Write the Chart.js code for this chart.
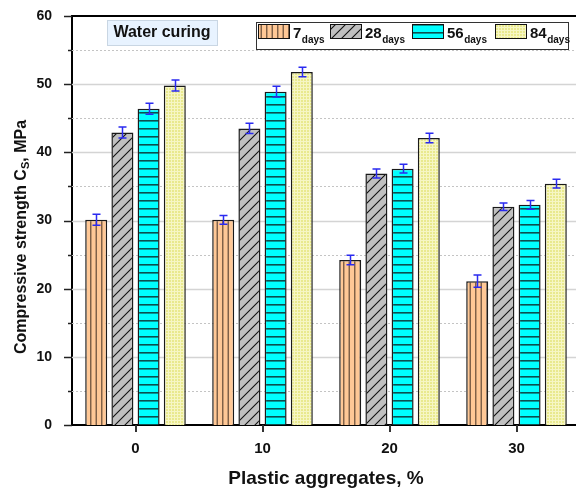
<!DOCTYPE html>
<html>
<head>
<meta charset="utf-8">
<script src="https://cdn.jsdelivr.net/npm/chart.js@4.4.0/dist/chart.umd.min.js"></script>
<style>
  html, body { margin: 0; padding: 0; background: #fff; overflow: hidden; }
  #marco { width: 576px; height: 489px; overflow: hidden; }
</style>
</head>
<body>
<div id="marco"><canvas id="grafico" width="584" height="489"></canvas></div>
<script>
// datos
const categorias = ['0', '10', '20', '30'];
const dias7 = [30.1, 30.1, 24.2, 21.1];
const dias28 = [42.9, 43.5, 36.9, 32.0];
const dias56 = [46.4, 48.9, 37.6, 32.3];
const dias84 = [49.8, 51.8, 42.1, 35.4];
const error7 = [0.8, 0.65, 0.7, 0.9];
const error28 = [0.8, 0.75, 0.65, 0.55];
const error56 = [0.8, 0.8, 0.65, 0.65];
const error84 = [0.8, 0.7, 0.7, 0.65];
const etiquetasSerie = ['7', '28', '56', '84'];

const FUENTE = '"Liberation Sans", Arial, sans-serif';

const canvas = document.getElementById('grafico');
const ctx = canvas.getContext('2d');

function hacerPatron(w, h, dibujar) {
  const c = document.createElement('canvas');
  c.width = w; c.height = h;
  const g = c.getContext('2d');
  dibujar(g, w, h);
  return ctx.createPattern(c, 'repeat');
}

// rayas verticales, naranja
const patron7 = hacerPatron(11, 11, (g, w, h) => {
  g.fillStyle = '#ffc896'; g.fillRect(0, 0, w, h);
  g.strokeStyle = '#7a5c44'; g.lineWidth = 1.4;
  [2.75, 8.25].forEach(x => { g.beginPath(); g.moveTo(x, 0); g.lineTo(x, h); g.stroke(); });
});
// diagonales, gris
const patron28 = hacerPatron(10, 10, (g, w, h) => {
  g.fillStyle = '#c0c0c0'; g.fillRect(0, 0, w, h);
  g.strokeStyle = '#111'; g.lineWidth = 1.1;
  g.beginPath();
  g.moveTo(-1, h + 1); g.lineTo(w + 1, -1);
  g.moveTo(-1, 1); g.lineTo(1, -1);
  g.moveTo(w - 1, h + 1); g.lineTo(w + 1, h - 1);
  g.stroke();
});
// rayas horizontales, cian
const patron56 = hacerPatron(8, 8, (g, w, h) => {
  g.fillStyle = '#00ffff'; g.fillRect(0, 0, w, h);
  g.fillStyle = '#0b4f4f'; g.fillRect(0, 0, w, 1.6);
});
// cuadricula fina, amarillo
const patron84 = hacerPatron(3, 3, (g, w, h) => {
  g.fillStyle = '#e9e98e'; g.fillRect(0, 0, w, h);
  g.fillStyle = '#f6f6c4'; g.fillRect(0, 0, w, 1); g.fillRect(0, 0, 1, h);
});

const series = [
  { label: '7', data: dias7, errores: error7, backgroundColor: patron7 },
  { label: '28', data: dias28, errores: error28, backgroundColor: patron28 },
  { label: '56', data: dias56, errores: error56, backgroundColor: patron56 },
  { label: '84', data: dias84, errores: error84, backgroundColor: patron84 }
];

const adornos = {
  id: 'adornos',
  beforeDatasetsDraw(chart) {
    const { ctx, chartArea: a, scales: { y } } = chart;
    ctx.save();
    y.ticks.forEach(t => {
      if (t.value <= 0 || t.value >= 60) return;
      const py = Math.round(y.getPixelForValue(t.value)) + 0.5;
      ctx.beginPath();
      if (t.value % 10 === 0) {
        ctx.strokeStyle = '#d4d4d4'; ctx.lineWidth = 1.5; ctx.setLineDash([]);
      } else {
        ctx.strokeStyle = '#c4c4c4'; ctx.lineWidth = 1; ctx.setLineDash([2, 2]);
      }
      ctx.moveTo(a.left, py); ctx.lineTo(a.right, py); ctx.stroke();
    });
    ctx.restore();
  },
  afterDatasetsDraw(chart) {
    const { ctx, scales: { y } } = chart;
    ctx.save();
    ctx.strokeStyle = '#2a2af0'; ctx.lineWidth = 1.5;
    chart.data.datasets.forEach((ds, i) => {
      chart.getDatasetMeta(i).data.forEach((bar, j) => {
        const v = ds.data[j], e = ds.errores[j];
        const y1 = y.getPixelForValue(v + e), y2 = y.getPixelForValue(v - e);
        const x = Math.round(bar.x) + 0.5;
        ctx.beginPath();
        ctx.moveTo(x, y1); ctx.lineTo(x, y2);
        ctx.moveTo(x - 4, y1); ctx.lineTo(x + 4, y1);
        ctx.moveTo(x - 4, y2); ctx.lineTo(x + 4, y2);
        ctx.stroke();
      });
    });
    ctx.restore();
  },
  afterDraw(chart) {
    const { ctx, chartArea: a, scales: { x, y } } = chart;
    ctx.save();
    // borde superior
    ctx.strokeStyle = '#000'; ctx.lineWidth = 2;
    ctx.beginPath(); ctx.moveTo(a.left - 1, a.top); ctx.lineTo(a.right + 10, a.top); ctx.stroke();
    // marcas del eje y
    ctx.strokeStyle = '#222'; ctx.lineWidth = 1.5;
    y.ticks.forEach(t => {
      const py = Math.round(y.getPixelForValue(t.value)) + 0.5;
      const largo = t.value % 10 === 0 ? 8 : 4;
      ctx.beginPath(); ctx.moveTo(a.left - largo, py); ctx.lineTo(a.left, py); ctx.stroke();
    });
    // marcas del eje x
    ctx.strokeStyle = '#333'; ctx.lineWidth = 2;
    categorias.forEach((c, i) => {
      const px = Math.round(x.getPixelForValue(i));
      ctx.beginPath(); ctx.moveTo(px, a.bottom); ctx.lineTo(px, a.bottom + 7); ctx.stroke();
    });

    ctx.fillStyle = '#111';
    // titulo eje x
    ctx.font = 'bold 19px ' + FUENTE;
    ctx.textAlign = 'center'; ctx.textBaseline = 'middle';
    ctx.fillText('Plastic aggregates, %', (a.left + a.right) / 2, 479);

    // titulo eje y con subindice
    ctx.save();
    ctx.translate(20, 237);
    ctx.rotate(-Math.PI / 2);
    ctx.textAlign = 'left'; ctx.textBaseline = 'alphabetic';
    const p1 = 'Compressive strength C', p2 = 'S', p3 = ', MPa';
    ctx.font = 'bold 16px ' + FUENTE;
    const w1 = ctx.measureText(p1).width, w3 = ctx.measureText(p3).width;
    ctx.font = 'bold 11px ' + FUENTE;
    const w2 = ctx.measureText(p2).width;
    let cx = -(w1 + w2 + w3) / 2;
    ctx.font = 'bold 16px ' + FUENTE;
    ctx.fillText(p1, cx, 6); cx += w1;
    ctx.font = 'bold 11px ' + FUENTE;
    ctx.fillText(p2, cx, 9); cx += w2;
    ctx.font = 'bold 16px ' + FUENTE;
    ctx.fillText(p3, cx, 6);
    ctx.restore();

    // caja "Water curing"
    ctx.fillStyle = '#e8f3ff';
    ctx.fillRect(107, 20, 110, 25);
    ctx.strokeStyle = '#c9d6e3'; ctx.lineWidth = 1;
    ctx.strokeRect(107.5, 20.5, 110, 25);
    ctx.fillStyle = '#111';
    ctx.font = 'bold 16px ' + FUENTE;
    ctx.textAlign = 'center'; ctx.textBaseline = 'middle';
    ctx.fillText('Water curing', 162, 33);

    // leyenda
    ctx.fillStyle = '#fff';
    ctx.fillRect(256, 22, 312, 27);
    ctx.strokeStyle = '#333'; ctx.lineWidth = 1;
    ctx.strokeRect(256.5, 22.5, 312, 27);
    const posLeyenda = [258, 330, 412, 495];
    chart.data.datasets.forEach((ds, i) => {
      const lx = posLeyenda[i];
      ctx.fillStyle = ds.backgroundColor;
      ctx.fillRect(lx, 24, 31, 14);
      ctx.strokeStyle = '#111'; ctx.lineWidth = 1;
      ctx.strokeRect(lx + 0.5, 24.5, 31, 14);
      ctx.fillStyle = '#111';
      ctx.textAlign = 'left'; ctx.textBaseline = 'alphabetic';
      ctx.font = 'bold 15px ' + FUENTE;
      ctx.fillText(etiquetasSerie[i], lx + 35, 38);
      const wt = ctx.measureText(etiquetasSerie[i]).width;
      ctx.font = 'bold 10px ' + FUENTE;
      ctx.fillText('days', lx + 35 + wt + 0.5, 43);
    });
    ctx.restore();
  }
};

new Chart(ctx, {
  type: 'bar',
  data: {
    labels: categorias,
    datasets: series.map(s => ({
      ...s,
      borderColor: '#1a1a1a',
      borderWidth: 1.5,
      categoryPercentage: 0.825,
      barPercentage: 0.84
    }))
  },
  options: {
    responsive: false,
    animation: false,
    devicePixelRatio: 1,
    layout: { padding: { top: 16, right: 4, left: 0, bottom: 0 } },
    plugins: {
      legend: { display: false },
      tooltip: { enabled: false }
    },
    scales: {
      x: {
        grid: { display: false, offset: false },
        border: { display: true, color: '#000', width: 2 },
        ticks: { color: '#111', padding: 7, font: { family: FUENTE, size: 15, weight: 'bold' } },
        afterFit(scale) { scale.height = 64; scale.paddingLeft = 0; scale.paddingRight = 0; }
      },
      y: {
        min: 0, max: 60,
        grid: { display: false },
        border: { display: true, color: '#000', width: 2 },
        ticks: {
          stepSize: 5,
          padding: 12,
          color: '#111',
          font: { family: FUENTE, size: 14, weight: 'bold' },
          callback: v => (v % 10 === 0 ? v : '')
        },
        afterFit(scale) { scale.width = 72; scale.paddingTop = 0; scale.paddingBottom = 0; }
      }
    }
  },
  plugins: [adornos]
});
</script>
</body>
</html>
